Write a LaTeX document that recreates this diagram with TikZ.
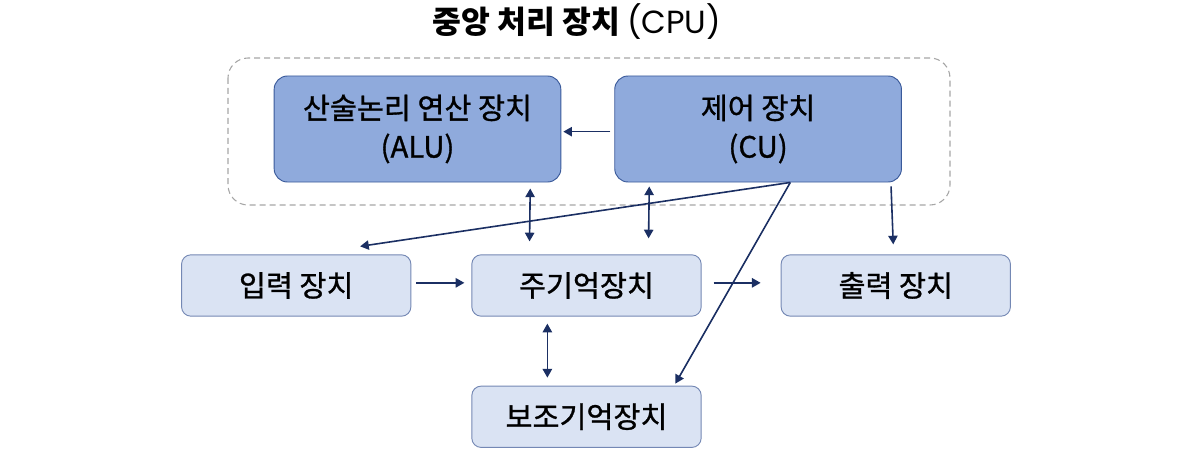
\documentclass[tikz,border=0pt]{standalone}
\usepackage{fontspec}
\setmainfont{Noto Sans CJK KR}
\newfontfamily\boxfont{Noto Sans CJK KR}[FakeBold=1]
\newfontfamily\latinfont{Poppins}
\usetikzlibrary{arrows.meta,positioning}

\definecolor{cpufill}{HTML}{8FAADC}
\definecolor{cpuline}{HTML}{3A5A9A}
\definecolor{devfill}{HTML}{DAE3F3}
\definecolor{devline}{HTML}{7488B4}
\definecolor{arrcol}{HTML}{1B2F63}
\definecolor{dashcol}{HTML}{A6A6A6}

\begin{document}
\begin{tikzpicture}[
  x=0.75pt,y=-0.75pt,
  unit/.style={draw=cpuline,fill=cpufill,rounded corners=10pt,line width=0.7pt,
    minimum width=215pt,minimum height=79.5pt,align=center,
    font=\boxfont\fontsize{22}{29}\selectfont},
  dev/.style={draw=devline,fill=devfill,rounded corners=7pt,line width=0.7pt,
    minimum width=172pt,minimum height=46pt,font=\boxfont\fontsize{22}{26}\selectfont},
  ar/.style={-{Triangle[length=6.5pt,width=7pt]},draw=arrcol,line width=1.2pt},
  dar/.style={ar,{Triangle[length=6.5pt,width=7pt]}-{Triangle[length=6.5pt,width=7pt]}}
]
\useasboundingbox (0,0) rectangle (1197,460);

% CPU frame
\draw[dashcol,dash pattern=on 4.5pt off 3pt,line width=0.8pt,rounded corners=15pt] (228,58) rectangle (950,205);
\node[font=\fontsize{23.5}{28}\selectfont] (title) at (577,22)
  {\textbf{중앙 처리 장치} {\latinfont\fontsize{24}{28}\selectfont (CPU)}};

\node[unit] (alu) at (417.5,129) {산술논리 연산 장치\\(ALU)};
\node[unit,right=39.75pt of alu] (cu) {제어 장치\\(CU)};

\node[dev] (mem) at (586.5,285.5) {주기억장치};
\node[dev,left=45pt of mem] (inp) {입력 장치};
\node[dev,right=59.25pt of mem] (outp) {출력 장치};
\node[dev,below=51.75pt of mem] (aux) {보조기억장치};

% connectors
\draw[ar,shorten <=3pt,shorten >=1.5pt] ([yshift=-2pt]cu.west) -- ([yshift=-2pt]alu.east);
\draw[dar,shorten <=4.5pt,shorten >=9.75pt] ([xshift=-23.25pt]alu.south east) -- ([xshift=43.5pt]mem.north west);
\draw[dar,shorten <=3pt,shorten >=12pt] ([xshift=26.25pt]cu.south west) -- ([xshift=132.75pt]mem.north west);
\draw[ar] ([xshift=132pt]cu.south west) -- ([xshift=134.25pt,yshift=6pt]inp.north west);
\draw[ar] ([xshift=132pt]cu.south west) -- ([xshift=153pt,yshift=1.5pt]aux.north west);
\draw[ar,shorten <=3pt,shorten >=7.5pt] ([xshift=-8.25pt]cu.south east) -- ([xshift=84.75pt]outp.north west);
\draw[ar,shorten <=3.75pt,shorten >=5.25pt] ([yshift=2pt]inp.east) -- ([yshift=2pt]mem.west);
\draw[ar,shorten <=9pt,shorten >=15pt] ([yshift=2pt]mem.east) -- ([yshift=2pt]outp.west);
\draw[dar,shorten <=5.25pt,shorten >=6pt] ([xshift=57pt]mem.south west) -- ([xshift=57pt]aux.north west);
\end{tikzpicture}
\end{document}
